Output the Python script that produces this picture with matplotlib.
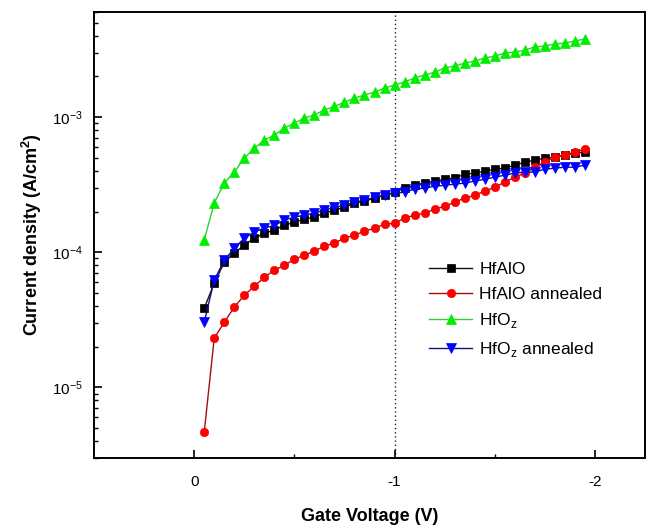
import numpy as np
import matplotlib
matplotlib.use("Agg")
import matplotlib.pyplot as plt
from matplotlib.ticker import FixedLocator, NullFormatter, LogLocator

plt.rcParams["font.family"] = ["Liberation Sans", "DejaVu Sans"]
plt.rcParams["mathtext.fontset"] = "custom"
plt.rcParams["mathtext.rm"] = "Liberation Sans"
plt.rcParams["axes.unicode_minus"] = False

# -----------------------------
# Data (gate voltage, current density A/cm^2)
# -----------------------------
gate_v = [-0.05, -0.10, -0.15, -0.20, -0.25, -0.30, -0.35, -0.40, -0.45, -0.50,
          -0.55, -0.60, -0.65, -0.70, -0.75, -0.80, -0.85, -0.90, -0.95, -1.00,
          -1.05, -1.10, -1.15, -1.20, -1.25, -1.30, -1.35, -1.40, -1.45, -1.50,
          -1.55, -1.60, -1.65, -1.70, -1.75, -1.80, -1.85, -1.90, -1.95]

hfalo = [3.85e-5, 5.89e-5, 8.43e-5, 9.84e-5, 1.13e-4, 1.27e-4, 1.38e-4, 1.46e-4, 1.58e-4, 1.67e-4,
         1.76e-4, 1.82e-4, 1.95e-4, 2.05e-4, 2.15e-4, 2.31e-4, 2.39e-4, 2.51e-4, 2.64e-4, 2.78e-4,
         2.98e-4, 3.13e-4, 3.25e-4, 3.36e-4, 3.47e-4, 3.53e-4, 3.78e-4, 3.85e-4, 3.98e-4, 4.12e-4,
         4.19e-4, 4.41e-4, 4.64e-4, 4.80e-4, 4.97e-4, 5.06e-4, 5.23e-4, 5.41e-4, 5.51e-4]

hfalo_ann = [4.64e-6, 2.31e-5, 3.03e-5, 3.92e-5, 4.80e-5, 5.60e-5, 6.53e-5, 7.36e-5, 8.01e-5, 8.87e-5,
             9.51e-5, 1.02e-4, 1.11e-4, 1.17e-4, 1.27e-4, 1.34e-4, 1.43e-4, 1.51e-4, 1.61e-4, 1.64e-4,
             1.79e-4, 1.88e-4, 1.95e-4, 2.08e-4, 2.19e-4, 2.35e-4, 2.51e-4, 2.64e-4, 2.83e-4, 3.03e-4,
             3.30e-4, 3.59e-4, 3.85e-4, 4.26e-4, 4.64e-4, 5.06e-4, 5.23e-4, 5.51e-4, 5.79e-4]

hfo2 = [1.23e-4, 2.31e-4, 3.25e-4, 3.92e-4, 4.97e-4, 5.89e-4, 6.76e-4, 7.36e-4, 8.29e-4, 9.03e-4,
        9.83e-4, 1.04e-3, 1.13e-3, 1.20e-3, 1.29e-3, 1.38e-3, 1.46e-3, 1.53e-3, 1.64e-3, 1.73e-3,
        1.82e-3, 1.95e-3, 2.05e-3, 2.15e-3, 2.31e-3, 2.39e-3, 2.51e-3, 2.60e-3, 2.74e-3, 2.83e-3,
        2.98e-3, 3.03e-3, 3.13e-3, 3.31e-3, 3.36e-3, 3.48e-3, 3.53e-3, 3.66e-3, 3.79e-3]

hfo2_ann = [3.03e-5, 6.21e-5, 8.72e-5, 1.07e-4, 1.27e-4, 1.41e-4, 1.51e-4, 1.58e-4, 1.73e-4, 1.82e-4,
            1.88e-4, 1.95e-4, 2.05e-4, 2.15e-4, 2.23e-4, 2.35e-4, 2.43e-4, 2.55e-4, 2.64e-4, 2.74e-4,
            2.78e-4, 2.93e-4, 2.98e-4, 3.08e-4, 3.13e-4, 3.19e-4, 3.25e-4, 3.36e-4, 3.47e-4, 3.59e-4,
            3.72e-4, 3.85e-4, 3.92e-4, 3.92e-4, 4.12e-4, 4.19e-4, 4.26e-4, 4.26e-4, 4.41e-4]

labels = ["HfAlO", "HfAlO annealed", r"HfO$_\mathregular{z}$", r"HfO$_\mathregular{z}$ annealed"]

# -----------------------------
# Figure
# -----------------------------
fig = plt.figure(figsize=(6.48, 5.25), dpi=100)
ax = fig.add_axes([94/648, 1 - 458/525, (645 - 94)/648, (458 - 12)/525])

series = [
    (hfalo, "#111111", "#000000", "s", 6.0),
    (hfalo_ann, "#a01010", "#ff0000", "o", 6.0),
    (hfo2, "#33cc33", "#00ee00", "^", 7.5),
    (hfo2_ann, "#101080", "#0000ff", "v", 7.5),
]

for (vals, lc, mc, mk, ms), lab in zip(series, labels):
    ax.plot(gate_v, vals, color=lc, lw=1.0, marker=mk, markersize=ms,
            markerfacecolor=mc, markeredgecolor=mc, markeredgewidth=0.5,
            label=lab, zorder=3)

ax.axvline(-1.0, color="#222222", lw=1.0, ls=(0, (1, 2)), zorder=1)

ax.set_yscale("log")
ax.set_xlim(0.5, -2.25)
ax.set_ylim(3e-6, 6e-3)

ax.xaxis.set_major_locator(FixedLocator([0, -1, -2]))
ax.xaxis.set_minor_locator(FixedLocator([-0.5, -1.5]))
ax.set_xticklabels(["0", "-1", "-2"])
ax.yaxis.set_major_locator(FixedLocator([1e-5, 1e-4, 1e-3]))
ax.yaxis.set_minor_locator(LogLocator(base=10, subs=np.arange(2, 10)))
ax.yaxis.set_minor_formatter(NullFormatter())

ax.tick_params(which="major", direction="in", length=6, width=1.2, labelsize=11)
ax.tick_params(axis="x", which="major", pad=12)
ax.tick_params(axis="y", which="major", pad=8)
ax.tick_params(which="minor", direction="in", length=3, width=1.0)
for s in ax.spines.values():
    s.set_linewidth(1.4)

ax.set_xlabel("Gate Voltage (V)", fontsize=13, fontweight="bold", labelpad=14)
ax.set_ylabel(r"Current density (A/cm$^\mathregular{2}$)", fontsize=13, fontweight="bold", labelpad=6)

ax.legend(loc="center", bbox_to_anchor=(0.765, 0.331), frameon=False, fontsize=12.5,
          handlelength=2.5, handletextpad=0.4, labelspacing=0.55)

plt.savefig("out.png", dpi=100, facecolor="white")
plt.close(fig)
